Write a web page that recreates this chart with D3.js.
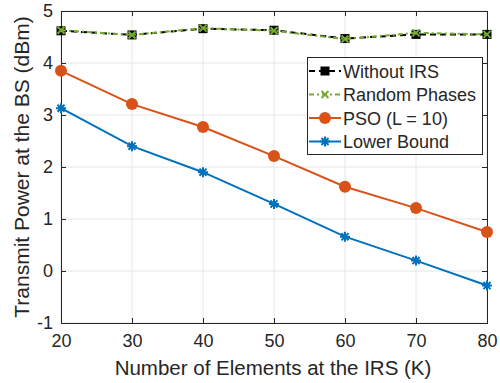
<!DOCTYPE html>
<html>
<head>
<meta charset="utf-8">
<script src="https://cdn.jsdelivr.net/npm/d3@7"></script>
<style>
  body { margin: 0; background: #fff; }
  text { font-family: "Liberation Sans", Arial, sans-serif; fill: #262626; }
</style>
</head>
<body>
<svg id="chart" width="500" height="383"></svg>
<script>
var elements = [20, 30, 40, 50, 60, 70, 80];
var withoutIrs = [4.62, 4.54, 4.66, 4.63, 4.47, 4.55, 4.55];
var randomPhases = [4.63, 4.54, 4.67, 4.62, 4.46, 4.58, 4.55];
var pso = [3.85, 3.21, 2.77, 2.21, 1.62, 1.21, 0.75];
var lowerBound = [3.13, 2.40, 1.90, 1.29, 0.66, 0.20, -0.28];
var yTicks = [-1, 0, 1, 2, 3, 4, 5];
var seriesNames = ["Without IRS", "Random Phases", "PSO (L = 10)", "Lower Bound"];

var svg = d3.select("#chart");
var margin = { top: 11, left: 61, bottom: 60, right: 13 };
var width = 500 - margin.left - margin.right;
var height = 383 - margin.top - margin.bottom;

var x = d3.scaleLinear().domain([20, 80]).range([margin.left, margin.left + width]);
var y = d3.scaleLinear().domain([-1, 5]).range([margin.top + height, margin.top]);

// grid
var grid = svg.append("g");
elements.forEach(function (v) {
  grid.append("line").attr("x1", x(v)).attr("x2", x(v))
    .attr("y1", margin.top).attr("y2", margin.top + height)
    .style("stroke", "#e6e6e6").style("stroke-width", 1);
});
yTicks.forEach(function (v) {
  grid.append("line").attr("x1", margin.left).attr("x2", margin.left + width)
    .attr("y1", y(v)).attr("y2", y(v))
    .style("stroke", "#e6e6e6").style("stroke-width", 1);
});

// axes
var plain = function (d) { return String(d); };
svg.append("g").attr("transform", "translate(0," + (margin.top + height) + ")")
  .call(d3.axisBottom(x).tickValues(elements).tickSize(-5).tickPadding(11).tickFormat(plain));
svg.append("g").attr("transform", "translate(" + margin.left + ",0)")
  .call(d3.axisLeft(y).tickValues(yTicks).tickSize(-5).tickPadding(8).tickFormat(plain));
svg.append("g").attr("transform", "translate(0," + margin.top + ")")
  .call(d3.axisTop(x).tickValues(elements).tickSize(-5).tickFormat(""));
svg.append("g").attr("transform", "translate(" + (margin.left + width) + ",0)")
  .call(d3.axisRight(y).tickValues(yTicks).tickSize(-5).tickFormat(""));
svg.selectAll(".domain").style("stroke", "#262626");
svg.selectAll(".tick line").style("stroke", "#262626");
svg.selectAll(".tick text").style("font-size", "18px").style("fill", "#262626")
  .attr("font-family", '"Liberation Sans", Arial, sans-serif');

// axis labels
svg.append("text")
  .attr("x", margin.left + width / 2 - 1).attr("y", 375)
  .style("text-anchor", "middle").style("font-size", "20.5px")
  .text("Number of Elements at the IRS (K)");
svg.append("text")
  .attr("transform", "translate(29," + (margin.top + height / 2) + ") rotate(-90)")
  .style("text-anchor", "middle").style("font-size", "21px")
  .text("Transmit Power at the BS (dBm)");

var colors = ["#000000", "#77AC30", "#D95319", "#0072BD"];
var dashes = ["6,4", "5,3,2,3", null, null];
var allSeries = [withoutIrs, randomPhases, pso, lowerBound];

var line = d3.line().x(function (d, i) { return x(elements[i]); }).y(function (d) { return y(d); });

function drawMarker(g, k, cx, cy) {
  if (k == 0) {
    g.append("rect").attr("x", cx - 4.5).attr("y", cy - 4.5).attr("width", 9).attr("height", 9)
      .style("fill", "#000");
  } else if (k == 1) {
    g.append("path").attr("d", "M" + (cx - 3.5) + "," + (cy - 3.5) + "L" + (cx + 3.5) + "," + (cy + 3.5) +
      "M" + (cx - 3.5) + "," + (cy + 3.5) + "L" + (cx + 3.5) + "," + (cy - 3.5))
      .style("stroke", colors[1]).style("stroke-width", 2).style("fill", "none");
  } else if (k == 2) {
    g.append("circle").attr("cx", cx).attr("cy", cy).attr("r", 6).style("fill", colors[2]);
  } else {
    var r = 5, d = "";
    for (var a = 0; a < 4; a++) {
      var ang = a * Math.PI / 4;
      d += "M" + (cx - r * Math.cos(ang)) + "," + (cy - r * Math.sin(ang)) +
        "L" + (cx + r * Math.cos(ang)) + "," + (cy + r * Math.sin(ang));
    }
    g.append("path").attr("d", d).style("stroke", colors[3]).style("stroke-width", 2).style("fill", "none");
  }
}

var plot = svg.append("g");
allSeries.forEach(function (s, k) {
  plot.append("path").datum(s).attr("d", line)
    .style("fill", "none").style("stroke", colors[k]).style("stroke-width", 2)
    .style("stroke-dasharray", dashes[k]);
  s.forEach(function (v, i) {
    drawMarker(plot, k, x(elements[i]), y(v));
  });
});

// legend
var legend = svg.append("g");
legend.append("rect").attr("x", 307.5).attr("y", 57.5).attr("width", 175).attr("height", 97)
  .style("fill", "#fff").style("stroke", "#262626").style("stroke-width", 1);
seriesNames.forEach(function (name, k) {
  var ly = 71 + k * 23.5;
  legend.append("line").attr("x1", 309).attr("x2", 341).attr("y1", ly).attr("y2", ly)
    .style("stroke", colors[k]).style("stroke-width", 2).style("stroke-dasharray", dashes[k]);
  drawMarker(legend, k, 325, ly);
  legend.append("text").attr("x", 343).attr("y", ly + 6.5)
    .style("font-size", "18px").text(name);
});
</script>
</body>
</html>
